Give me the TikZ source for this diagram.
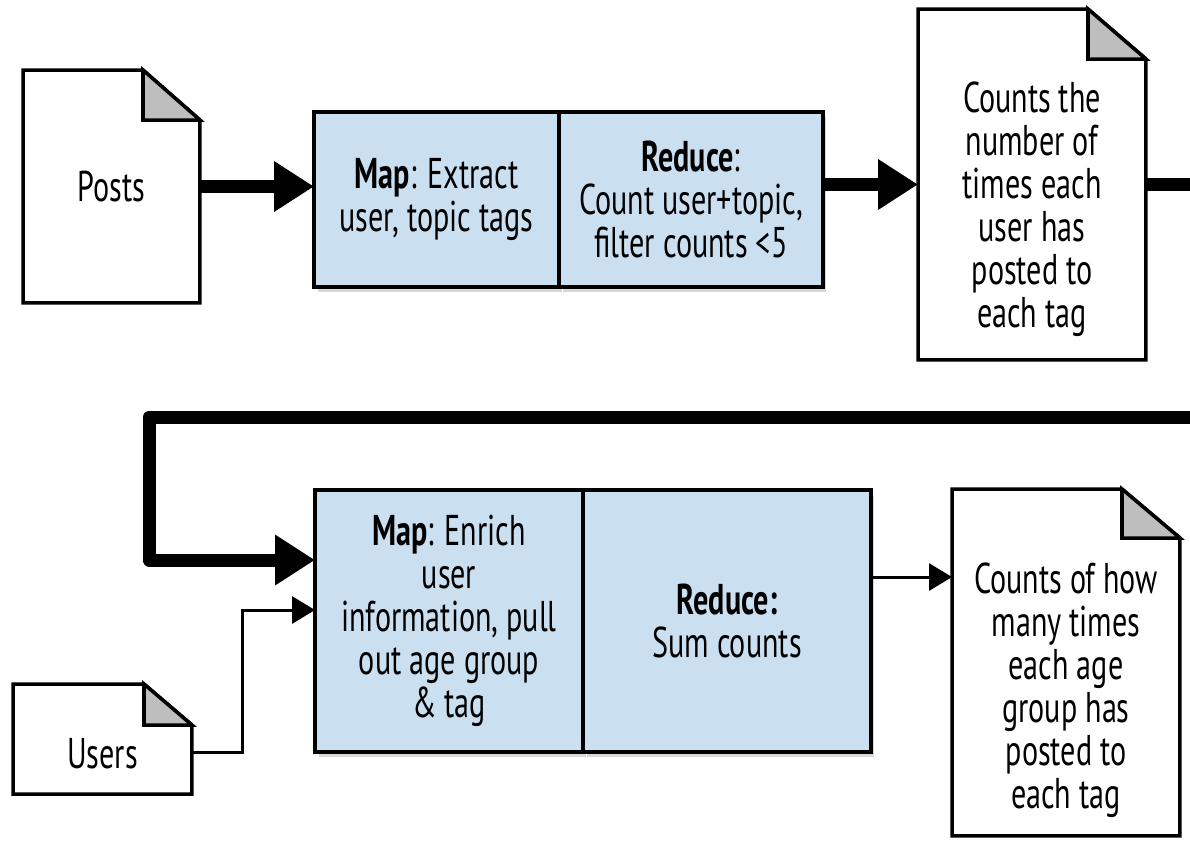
\documentclass[tikz,border=0pt]{standalone}
\usepackage{fontspec}
\setmainfont[FakeStretch=0.7]{PT Sans}
\usetikzlibrary{arrows.meta,shadows}
\definecolor{mapblue}{HTML}{CADFEF}
\definecolor{foldgray}{HTML}{BEBEBE}
\tikzset{
  stagebox/.style={draw, line width=2pt, fill=mapblue, inner sep=0pt, outer sep=0pt, align=center,
    drop shadow={shadow xshift=2pt, shadow yshift=-3pt, opacity=0.3}},
  docnode/.style={inner sep=0pt, outer sep=0pt},
  doctext/.style={align=center},
  docline/.style={line width=2pt, line join=miter},
  bigflow/.style={line width=7.4pt, line join=round, -{Triangle[length=0.8cm,width=0.96cm]}},
  smallflow/.style={line width=1.7pt, -{Triangle[length=0.46cm,width=0.54cm]}},
}
% outline of a document with a folded corner: node, fold in x, fold in y
\newcommand\docoutline[3]{%
  \draw[docline] (#1.north west) -- ([xshift=-#2]#1.north east) -- ([yshift=-#3]#1.north east)
    -- (#1.south east) -- (#1.south west) -- cycle;
  \draw[docline, fill=foldgray] ([xshift=-#2]#1.north east) -- ([xshift=-#2,yshift=-#3]#1.north east)
    -- ([yshift=-#3]#1.north east) -- cycle;
}
\begin{document}
\begin{tikzpicture}[x=0.02cm, y=-0.02cm, font=\fontsize{24.5}{24.5}\selectfont]
            \fill[white] (0,0) rectangle (1190,840);
            \useasboundingbox (0,0) rectangle (1190,840);
            % first job
            \node[docnode, minimum width=3.54cm, minimum height=4.66cm,
                  label={[doctext]center:{Posts}}] (posts) at (111.5,186.5) {};
            \node[stagebox, minimum width=4.9cm, minimum height=3.5cm] (map1) at (436.5,199.5)
                  {\textbf{Map}: Extract\\user, topic tags};
            \node[stagebox, minimum width=5.28cm, minimum height=3.5cm] (reduce1) at (691,199.5)
                  {\textbf{Reduce}:\\Count user+topic,\\filter counts <5};
            \node[docnode, minimum width=4.56cm, minimum height=7.02cm,
                  label={[doctext,yshift=-0.5cm]center:{Counts the\\number of\\times each\\user has\\posted to\\each tag}}]
                  (usercounts) at (1032,184.5) {};
            % second job
            \node[docnode, minimum width=3.58cm, minimum height=2.2cm,
                  label={[doctext,yshift=-0.3cm]center:{Users}}] (users) at (102.5,739) {};
            \node[stagebox, minimum width=5.36cm, minimum height=5.24cm] (map2) at (449,621)
                  {\textbf{Map}: Enrich\\user\\information, pull\\out age group\\\& tag};
            \node[stagebox, minimum width=5.76cm, minimum height=5.24cm] (reduce2) at (727,621)
                  {\textbf{Reduce:}\\Sum counts};
            \node[docnode, minimum width=4.56cm, minimum height=6.94cm,
                  label={[doctext,yshift=-0.55cm]center:{Counts of how\\many times\\each age\\group has\\posted to\\each tag}}]
                  (agecounts) at (1066,662.5) {};
            \docoutline{posts}{1.14cm}{1.0cm}
            \docoutline{usercounts}{1.16cm}{1.0cm}
            \docoutline{users}{0.96cm}{0.82cm}
            \docoutline{agecounts}{1.16cm}{0.98cm}
            % connectors
            \coordinate (rightturn) at (1196,417);
            \coordinate (leftturn) at (149,417);
            \draw[bigflow] (posts.east) -- (posts.east -| map1.west);
            \draw[bigflow] (reduce1.east |- usercounts.west) -- (usercounts.west);
            \draw[bigflow] (usercounts.east) -| (rightturn) -- (leftturn) |- ([yshift=1.22cm]map2.west);
            \draw[smallflow] ([yshift=-0.26cm]users.east) -- ++(51,0) |- ([yshift=0.22cm]map2.west);
            \draw[smallflow] ([yshift=0.88cm]reduce2.east) -- ([yshift=0.88cm]reduce2.east -| agecounts.west);
            \end{tikzpicture}
\end{document}
